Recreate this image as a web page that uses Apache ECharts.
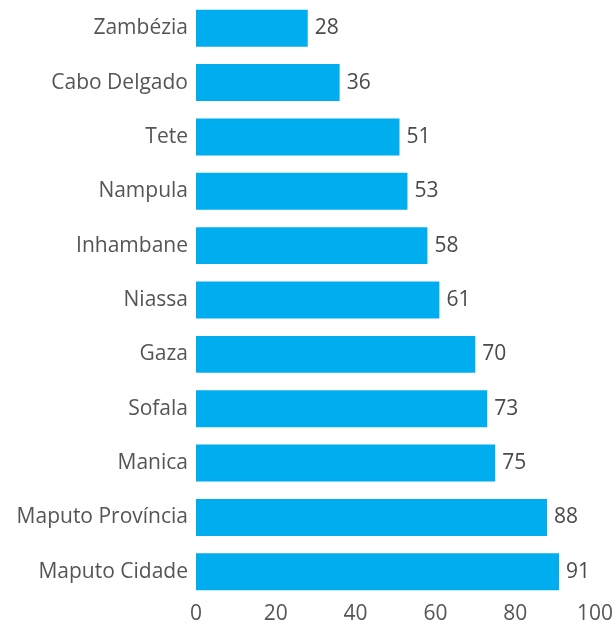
<!DOCTYPE html>
<html>
<head>
<meta charset="utf-8">
<script src="https://cdn.jsdelivr.net/npm/echarts@6/dist/echarts.min.js"></script>
<style>
  html, body { margin: 0; padding: 0; background: #fff; }
  #chart { width: 616px; height: 625px; }
</style>
</head>
<body>
<div id="chart"></div>
<script>
// Provinces, listed bottom to top as the category axis draws them
const provinces = [
  'Maputo Cidade', 'Maputo Província', 'Manica', 'Sofala', 'Gaza',
  'Niassa', 'Inhambane', 'Nampula', 'Tete', 'Cabo Delgado', 'Zambézia'
];
const values = [91, 88, 75, 73, 70, 61, 58, 53, 51, 36, 28];
const xTicks = [0, 20, 40, 60, 80, 100];

const FONT = 'Open Sans';
const TEXT = '#555555';

const chart = echarts.init(document.getElementById('chart'), null, { renderer: 'canvas' });
chart.setOption({
  animation: false,
  grid: { left: 196, right: 16, top: 1, bottom: 24, containLabel: false },
  xAxis: {
    type: 'value',
    min: xTicks[0],
    max: xTicks[xTicks.length - 1],
    interval: xTicks[1] - xTicks[0],
    axisLine: { show: false },
    axisTick: { show: false },
    splitLine: { show: false },
    axisLabel: { color: TEXT, fontFamily: FONT, fontSize: 21, margin: 5 }
  },
  yAxis: {
    type: 'category',
    data: provinces,
    axisLine: { show: false },
    axisTick: { show: false },
    axisLabel: { color: TEXT, fontFamily: FONT, fontSize: 21, margin: 8 }
  },
  series: [{
    type: 'bar',
    data: values,
    barCategoryGap: '32%',
    itemStyle: { color: '#00AEEF' },
    label: {
      show: true,
      position: 'right',
      distance: 7,
      color: '#4a4a4a',
      fontFamily: FONT,
      fontSize: 21
    }
  }]
});
</script>
</body>
</html>
